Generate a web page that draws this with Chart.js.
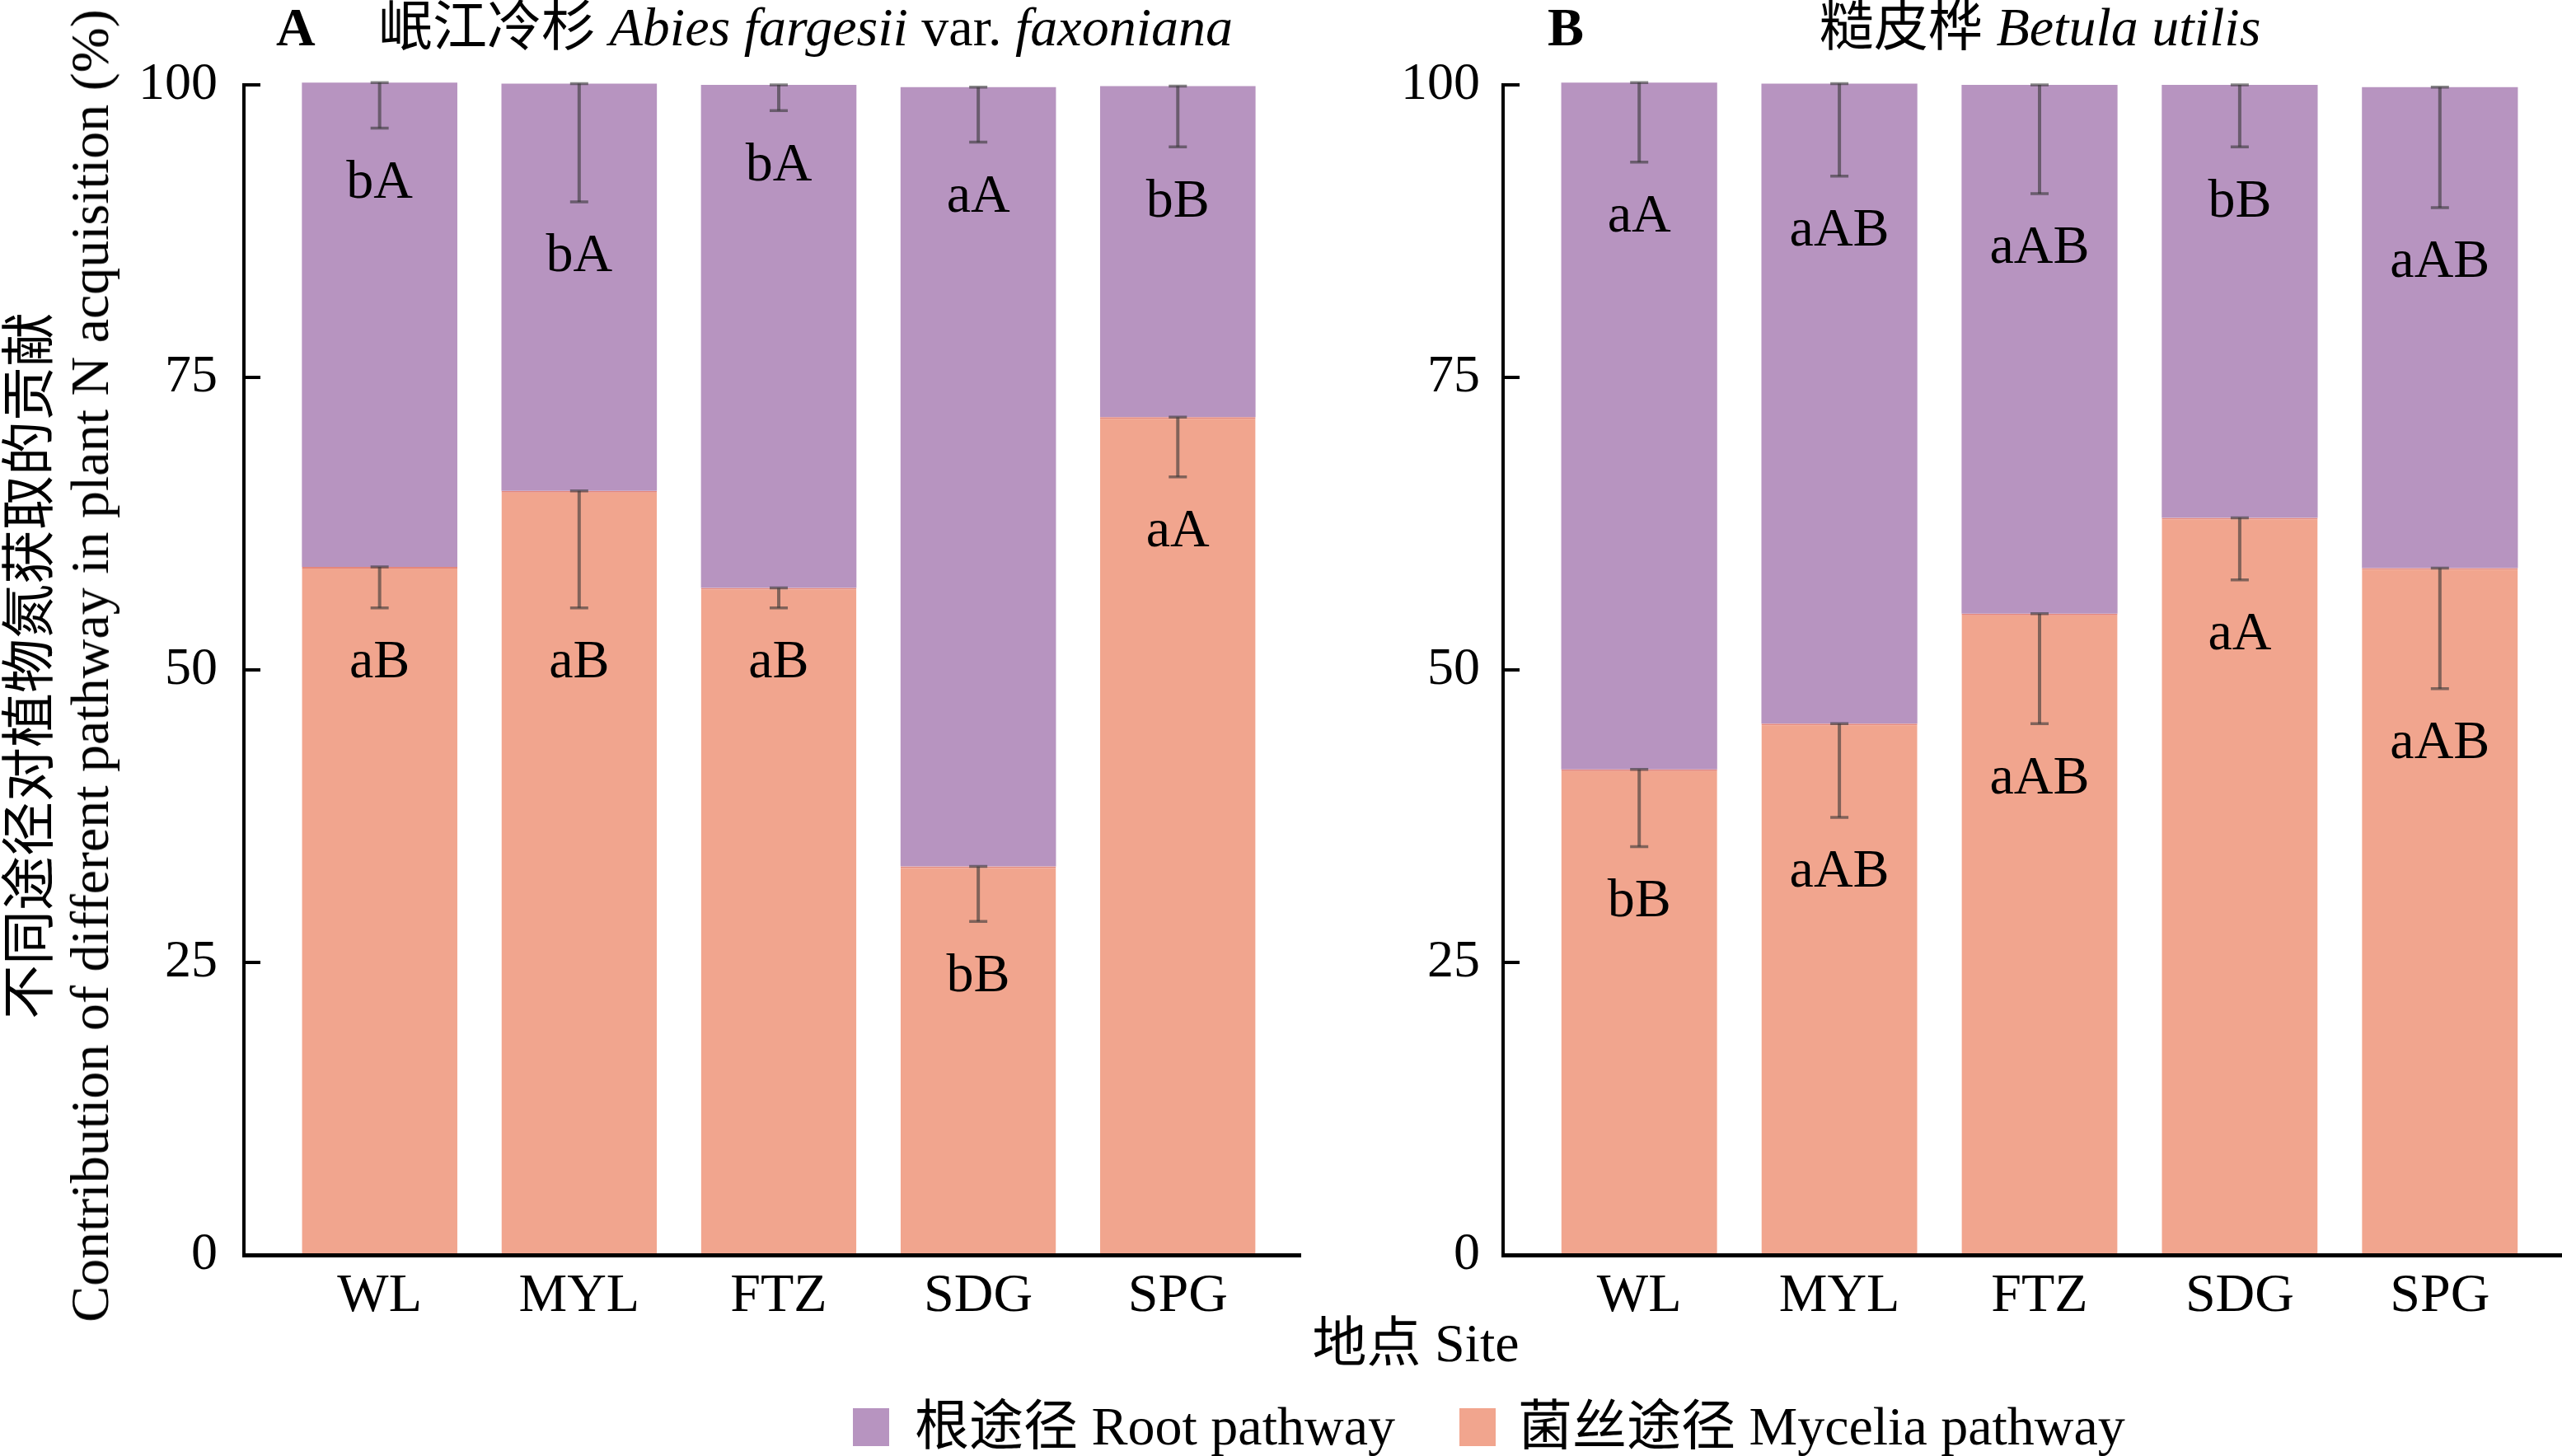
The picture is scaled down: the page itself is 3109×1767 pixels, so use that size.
<!DOCTYPE html>
<html lang="zh">
<head>
<meta charset="utf-8">
<title>不同途径对植物氮获取的贡献</title>
<script src="https://cdn.jsdelivr.net/npm/chart.js@4.4.1/dist/chart.umd.min.js"></script>
<style>
  html, body { margin: 0; padding: 0; background: #fff; }
  body {
    width: 3109px; height: 1767px; position: relative; overflow: hidden;
    font-family: "Liberation Serif", "Noto Sans CJK SC", serif; font-size: 66px; color: #000;
  }
  canvas { position: absolute; top: 0; }
  .txt { position: absolute; white-space: nowrap; line-height: 1; }
  .mid { transform: translate(-50%, -50%); }
  .rot { transform: translate(-50%, -50%) rotate(-90deg); }
  .key { position: absolute; width: 44px; height: 46px; }
</style>
</head>
<body>

<canvas id="panel-a" width="1600" height="1767" style="left:0"></canvas>
<canvas id="panel-b" width="1509" height="1767" style="left:1600px"></canvas>

<!-- panel titles -->
<div class="txt" style="left:335px; top:0px; font-weight:bold;">A</div>
<div class="txt" style="left:459px; top:0px;">岷江冷杉 <i>Abies fargesii</i> var. <i>faxoniana</i></div>
<div class="txt" style="left:1878px; top:0px; font-weight:bold;">B</div>
<div class="txt" style="left:2208px; top:0px;">糙皮桦 <i>Betula utilis</i></div>

<!-- shared axis titles -->
<div class="txt rot" style="left:36px; top:808px;">不同途径对植物氮获取的贡献</div>
<div class="txt rot" style="left:109px; top:808px;">Contribution of different pathway in plant N acquisition (%)</div>
<div class="txt mid" style="left:1718px; top:1630px;">地点 Site</div>

<!-- legend -->
<div class="key" style="left:1035px; top:1709px; background:#B794C0;"></div>
<div class="txt" style="left:1110px; top:1731px; transform:translateY(-50%);">根途径 Root pathway</div>
<div class="key" style="left:1771px; top:1709px; background:#F1A58E;"></div>
<div class="txt" style="left:1842px; top:1731px; transform:translateY(-50%);">菌丝途径 Mycelia pathway</div>

<script>
// Sites along the x axis
const sites = ['WL', 'MYL', 'FTZ', 'SDG', 'SPG'];
const yTicks = [0, 25, 50, 75, 100];

// A  Abies fargesii var. faxoniana (%)
const mycA     = [58.8, 65.3, 57.0, 33.2, 71.6];
const mycSeA   = [3.5, 10.0, 1.7, 4.7, 5.1];
const rootA    = [41.4, 34.8, 43.0, 66.6, 28.3];
const rootSeA  = [3.9, 10.1, 2.2, 4.7, 5.2];
const mycLetA  = ['aB', 'aB', 'aB', 'bB', 'aA'];
const rootLetA = ['bA', 'bA', 'bA', 'aA', 'bB'];

// B  Betula utilis (%)
const mycB     = [41.5, 45.4, 54.8, 63.0, 58.7];
const mycSeB   = [6.6, 8.0, 9.4, 5.3, 10.3];
const rootB    = [58.7, 54.7, 45.2, 37.0, 41.1];
const rootSeB  = [6.8, 7.9, 9.3, 5.3, 10.3];
const mycLetB  = ['bB', 'aAB', 'aAB', 'aA', 'aAB'];
const rootLetB = ['aA', 'aAB', 'aAB', 'bB', 'aAB'];

const PURPLE = '#B794C0';
const SALMON = '#F1A58E';
const SERIF = '"Liberation Serif", "Noto Sans CJK SC", serif';

// error bars (lower half, from the top of each segment) + significance letters
const marksPlugin = {
  id: 'marks',
  afterDatasetsDraw(chart, args, opts) {
    const { ctx } = chart;
    const y = chart.scales.y;
    ctx.save();
    chart.data.datasets.forEach((ds, di) => {
      const meta = chart.getDatasetMeta(di);
      meta.data.forEach((bar, i) => {
        const top = bar.y;
        const low = y.getPixelForValue(y.getValueForPixel(top) - opts.se[di][i]);
        ctx.strokeStyle = 'rgba(55,55,55,0.6)';
        ctx.lineWidth = 4;
        ctx.beginPath();
        ctx.moveTo(bar.x, top);
        ctx.lineTo(bar.x, low);
        ctx.stroke();
        ctx.lineWidth = 3.5;
        ctx.beginPath();
        ctx.moveTo(bar.x - 11, top); ctx.lineTo(bar.x + 11, top);
        ctx.moveTo(bar.x - 11, low); ctx.lineTo(bar.x + 11, low);
        ctx.stroke();

        ctx.fillStyle = '#000';
        ctx.font = '66px ' + SERIF;
        ctx.textAlign = 'center';
        ctx.textBaseline = 'middle';
        ctx.fillText(opts.letters[di][i], bar.x, low + 67);
      });
    });
    ctx.restore();
  }
};

function makePanel(id, myc, mycSe, root, rootSe, mycLet, rootLet, yWidth, yPad, rightPad) {
  return new Chart(document.getElementById(id), {
    type: 'bar',
    data: {
      datasets: [
        {
          label: '菌丝途径 Mycelia pathway',
          data: myc.map((v, i) => ({ x: i, y: v })),
          backgroundColor: SALMON,
          borderColor: '#E4877C',
          borderWidth: { top: 2, right: 0, bottom: 0, left: 0 },
          borderSkipped: false,
          clip: false,
        },
        {
          label: '根途径 Root pathway',
          data: root.map((v, i) => ({ x: i, y: v })),
          backgroundColor: PURPLE,
          borderWidth: 0,
          clip: false,
        },
      ]
    },
    options: {
      responsive: false,
      animation: false,
      layout: { padding: { left: 0, top: 103, right: rightPad, bottom: 104 } },
      datasets: { bar: { categoryPercentage: 1, barPercentage: 0.779 } },
      plugins: {
        legend: { display: false },
        tooltip: { enabled: false },
        marks: { se: [mycSe, rootSe], letters: [mycLet, rootLet] },
      },
      scales: {
        x: {
          type: 'linear', stacked: true, min: -0.68, max: 4.61, offset: false, z: 1,
          afterBuildTicks: s => { s.ticks = sites.map((_, i) => ({ value: i })); },
          afterFit: s => { s.height = 140; },
          ticks: {
            stepSize: 1, includeBounds: false, autoSkip: false, maxRotation: 0, padding: 25, color: '#000',
            font: { family: SERIF, size: 66 },
            callback: v => sites[v] ?? '',
          },
          grid: { offset: false, drawOnChartArea: false, tickLength: -14, lineWidth: 3, color: 'rgba(70,70,70,0.6)' },
          border: { display: true, width: 5, color: '#000' },
        },
        y: {
          stacked: true, min: 0, max: 100, z: 1,
          afterBuildTicks: s => { s.ticks = yTicks.map(v => ({ value: v })); },
          afterFit: s => { s.width = yWidth; },
          ticks: { padding: yPad, color: '#000', font: { family: SERIF, size: 64 } },
          grid: { drawOnChartArea: false, tickLength: -20, lineWidth: 4, color: '#000' },
          border: { display: true, width: 4, color: '#000' },
        },
      }
    },
    plugins: [marksPlugin]
  });
}

makePanel('panel-a', mycA, mycSeA, rootA, rootSeA, mycLetA, rootLetA, 296, 52, 23);
makePanel('panel-b', mycB, mycSeB, rootB, rootSeB, mycLetB, rootLetB, 224, 48, 0);
</script>
</body>
</html>
